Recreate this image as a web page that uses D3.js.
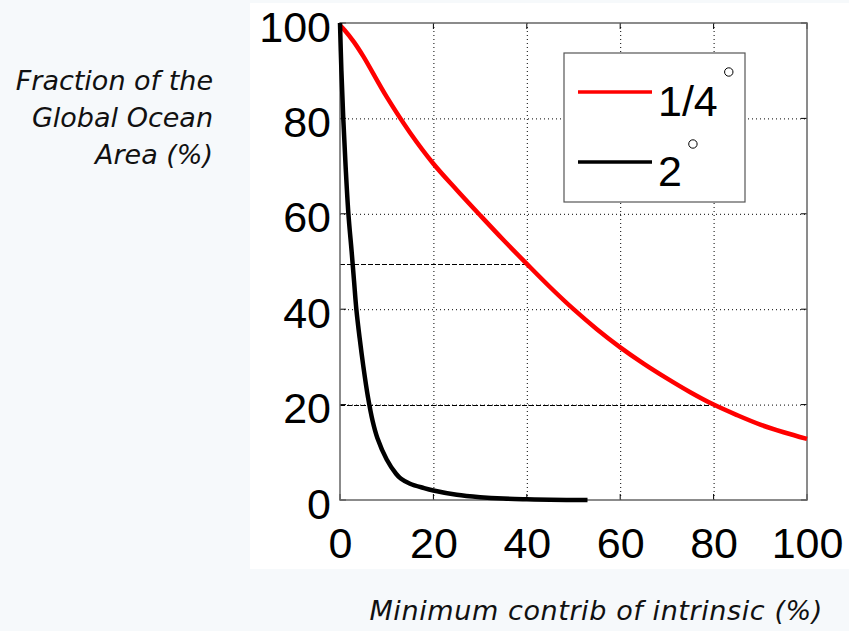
<!DOCTYPE html>
<html>
<head>
<meta charset="utf-8">
<script src="https://cdn.jsdelivr.net/npm/d3@7"></script>
<style>
  body { margin: 0; background: #f6f9fb; }
  svg { display: block; }
  .tick-lbl { font-family: "Liberation Sans", Arial, sans-serif; font-size: 43px; fill: #000; }
  .title { font-family: "DejaVu Sans", sans-serif; font-style: italic; font-weight: 200; font-size: 27px; fill: #111; }
</style>
</head>
<body>
<svg id="chart" width="849" height="631"></svg>
<script>

// values
var xTicks = [0, 20, 40, 60, 80, 100];
var yTicks = [0, 20, 40, 60, 80, 100];

var redX = [0, 1, 3, 5, 10, 15, 20, 25, 30, 35, 40, 45, 50, 55, 60, 65, 70, 75, 80, 85, 90, 95, 100];
var redY = [99.5, 98.5, 96, 93, 84.5, 77, 70.5, 65, 59.7, 54.5, 49.5, 44.6, 40, 35.8, 32, 28.6, 25.5, 22.6, 20, 17.8, 15.8, 14.2, 12.8];

var blackX = [0, 0.3, 0.7, 1.2, 1.8, 2.5, 3, 3.5, 4.2, 5, 6, 7, 8, 10, 12, 13, 15, 18, 20, 25, 30, 35, 40, 45, 53];
var blackY = [100, 90, 80, 70, 60, 52, 46, 40, 34, 28, 21.5, 16.5, 13, 8.5, 5.5, 4.5, 3.4, 2.5, 2, 1.1, 0.6, 0.3, 0.15, 0.05, 0];

// dashed guide lines : [x end, y level]
var guideX = [40, 80];
var guideY = [49.5, 20];

var legendNames = ["1/4", "2"];
var legendColors = ["#ff0000", "#000000"];

function draw() {
  var svg = d3.select("#chart");

  svg.append("rect").attr("width", 849).attr("height", 631).attr("fill", "#f6f9fb");
  svg.append("rect").attr("x", 250).attr("y", 3).attr("width", 599).attr("height", 566).attr("fill", "#fff");

  var mLeft = 340, mRight = 807, mTop = 23, mBottom = 500;

  var x = d3.scaleLinear().domain([0, 100]).range([mLeft, mRight]);
  var y = d3.scaleLinear().domain([0, 100]).range([mBottom, mTop]);

  var g = svg.append("g");

  // grid (dotted)
  g.append("g")
    .attr("transform", "translate(0," + mBottom + ")")
    .call(d3.axisBottom(x).tickValues(xTicks.slice(1, -1)).tickSize(-(mBottom - mTop)).tickFormat(""))
    .call(s => s.select(".domain").remove())
    .selectAll("line").attr("stroke", "#000").attr("stroke-width", 1).attr("stroke-dasharray", "1,3");

  g.append("g")
    .attr("transform", "translate(" + mLeft + ",0)")
    .call(d3.axisLeft(y).tickValues(yTicks.slice(1, -1)).tickSize(-(mRight - mLeft)).tickFormat(""))
    .call(s => s.select(".domain").remove())
    .selectAll("line").attr("stroke", "#000").attr("stroke-width", 1).attr("stroke-dasharray", "1,3");

  // dashed guides
  for (var i = 0; i < guideX.length; i++) {
    g.append("line")
      .attr("x1", x(0)).attr("x2", x(guideX[i]))
      .attr("y1", Math.round(y(guideY[i])) + 0.5).attr("y2", Math.round(y(guideY[i])) + 0.5)
      .attr("stroke", "#000").attr("stroke-width", 1.2).attr("stroke-dasharray", "5,2");
  }

  // inward ticks on all four sides
  var tl = 6;
  xTicks.forEach(function (t) {
    g.append("line").attr("x1", x(t)).attr("x2", x(t)).attr("y1", mBottom).attr("y2", mBottom - tl).attr("stroke", "#000");
    g.append("line").attr("x1", x(t)).attr("x2", x(t)).attr("y1", mTop).attr("y2", mTop + tl).attr("stroke", "#000");
  });
  yTicks.forEach(function (t) {
    g.append("line").attr("x1", mLeft).attr("x2", mLeft + tl).attr("y1", y(t)).attr("y2", y(t)).attr("stroke", "#000");
    g.append("line").attr("x1", mRight).attr("x2", mRight - tl).attr("y1", y(t)).attr("y2", y(t)).attr("stroke", "#000");
  });

  // box
  g.append("rect")
    .attr("x", mLeft).attr("y", mTop).attr("width", mRight - mLeft).attr("height", mBottom - mTop)
    .attr("fill", "none").attr("stroke", "#666").attr("stroke-width", 1.5);

  // curves
  var line = d3.line().x(d => x(d[0])).y(d => y(d[1])).curve(d3.curveCatmullRom);

  g.append("path")
    .datum(redX.map((v, i) => [v, redY[i]]))
    .attr("d", line).attr("fill", "none").attr("stroke", "#ff0000").attr("stroke-width", 4.5);

  g.append("path")
    .datum(blackX.map((v, i) => [v, blackY[i]]))
    .attr("d", line)
    .attr("fill", "none").attr("stroke", "#000").attr("stroke-width", 4.5);

  // tick labels
  var xa = svg.append("g")
    .attr("transform", "translate(0," + mBottom + ")")
    .call(d3.axisBottom(x).tickValues(xTicks).tickSize(0).tickPadding(27));
  xa.select(".domain").remove();
  xa.selectAll("text").attr("class", "tick-lbl").attr("font-size", null).attr("font-family", null);

  var ya = svg.append("g")
    .attr("transform", "translate(" + mLeft + ",0)")
    .call(d3.axisLeft(y).tickValues(yTicks).tickSize(0).tickPadding(9));
  ya.select(".domain").remove();
  ya.selectAll("text").attr("class", "tick-lbl").attr("font-size", null).attr("font-family", null).attr("dy", "0.42em");

  // legend
  var lg = svg.append("g");
  lg.append("rect").attr("x", 564).attr("y", 53).attr("width", 181).attr("height", 149)
    .attr("fill", "#fff").attr("stroke", "#555").attr("stroke-width", 1.2);

  var lgY = d3.scalePoint().domain(legendNames).range([92, 162]);
  legendNames.forEach(function (n, i) {
    lg.append("line").attr("x1", 578).attr("x2", 652).attr("y1", lgY(n)).attr("y2", lgY(n))
      .attr("stroke", legendColors[i]).attr("stroke-width", 3.5);
    var t = lg.append("text").attr("class", "tick-lbl").attr("x", 658).attr("y", lgY(n) + 24)
      .attr("font-size", 45).text(n);
    var w = t.node().getComputedTextLength();
    lg.append("circle").attr("cx", 658 + w + 11).attr("cy", lgY(n) - 20 + i * 2).attr("r", 4.2)
      .attr("fill", "none").attr("stroke", "#000").attr("stroke-width", 1);
  });

  // axis titles
  var yTitle = ["Fraction of the", "Global Ocean", "Area (%)"];
  yTitle.forEach(function (s, i) {
    svg.append("text").attr("class", "title").attr("text-anchor", "end")
      .attr("x", 213).attr("y", 90 + i * 37).text(s);
  });
  svg.append("text").attr("class", "title").attr("text-anchor", "end")
    .attr("x", 823).attr("y", 620).attr("letter-spacing", 0.6).text("Minimum contrib of intrinsic (%)");
}

draw();
</script>
</body>
</html>
